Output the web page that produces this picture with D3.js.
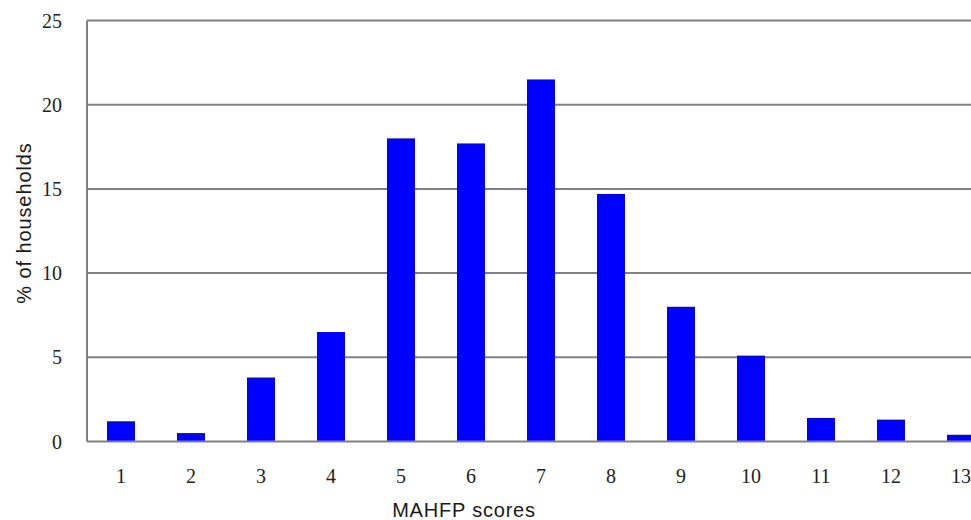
<!DOCTYPE html>
<html>
<head>
<meta charset="utf-8">
<script src="https://cdn.jsdelivr.net/npm/d3@7"></script>
<style>
  html, body { margin: 0; padding: 0; background: #fff; overflow: hidden; }
</style>
</head>
<body>
<div id="chart"></div>
<script>
const scores = ["1", "2", "3", "4", "5", "6", "7", "8", "9", "10", "11", "12", "13"];
const households = [1.2, 0.5, 3.8, 6.5, 18.0, 17.7, 21.5, 14.7, 8.0, 5.1, 1.4, 1.3, 0.4];
const yTicks = [0, 5, 10, 15, 20, 25];

const width = 971, height = 520;
const margin = { left: 87, top: 20.5, bottom: 78.5 };

const svg = d3.select("#chart").append("svg")
    .attr("width", width)
    .attr("height", height);

// plot runs off the right edge like the original
const x = d3.scaleBand()
    .domain(scores)
    .range([margin.left - 1, margin.left - 1 + 70 * scores.length])
    .paddingInner(0.6)
    .paddingOuter(0.3);

const y = d3.scaleLinear()
    .domain([0, 25])
    .range([height - margin.bottom, margin.top]);

// gridlines
svg.append("g")
    .selectAll("line")
    .data(yTicks.filter(d => d > 0))
    .join("line")
    .attr("x1", margin.left)
    .attr("x2", width)
    .attr("y1", d => y(d))
    .attr("y2", d => y(d))
    .attr("stroke", "#808080")
    .attr("stroke-width", 2);

// bars
svg.append("g")
    .selectAll("rect")
    .data(households)
    .join("rect")
    .attr("x", (d, i) => x(scores[i]))
    .attr("y", d => y(d))
    .attr("width", x.bandwidth())
    .attr("height", d => y(0) - y(d))
    .attr("fill", "#0000ff");

// axis lines
svg.append("line")
    .attr("x1", margin.left).attr("x2", margin.left)
    .attr("y1", y(25)).attr("y2", y(0))
    .attr("stroke", "#808080").attr("stroke-width", 2);
svg.append("line")
    .attr("x1", margin.left).attr("x2", width)
    .attr("y1", y(0)).attr("y2", y(0))
    .attr("stroke", "#808080").attr("stroke-width", 2);

// y tick labels
svg.append("g")
    .selectAll("text")
    .data(yTicks)
    .join("text")
    .attr("x", 62)
    .attr("y", d => y(d))
    .attr("dy", "0.35em")
    .attr("text-anchor", "end")
    .attr("font-family", "Liberation Serif, serif")
    .attr("font-size", 20)
    .attr("fill", "#222")
    .text(d => d);

// x tick labels
svg.append("g")
    .selectAll("text")
    .data(scores)
    .join("text")
    .attr("x", d => x(d) + x.bandwidth() / 2)
    .attr("y", 483)
    .attr("text-anchor", "middle")
    .attr("font-family", "Liberation Serif, serif")
    .attr("font-size", 20)
    .attr("fill", "#222")
    .text(d => d);

// axis titles
svg.append("text")
    .attr("x", 464)
    .attr("y", 517)
    .attr("text-anchor", "middle")
    .attr("font-family", "Liberation Sans, Arial, sans-serif")
    .attr("font-size", 20)
    .attr("letter-spacing", 0.8)
    .attr("fill", "#1a1a1a")
    .text("MAHFP scores");

svg.append("text")
    .attr("transform", "translate(31,223) rotate(-90)")
    .attr("text-anchor", "middle")
    .attr("font-family", "Liberation Sans, Arial, sans-serif")
    .attr("font-size", 20)
    .attr("letter-spacing", 0.9)
    .attr("fill", "#1a1a1a")
    .text("% of households");
</script>
</body>
</html>
